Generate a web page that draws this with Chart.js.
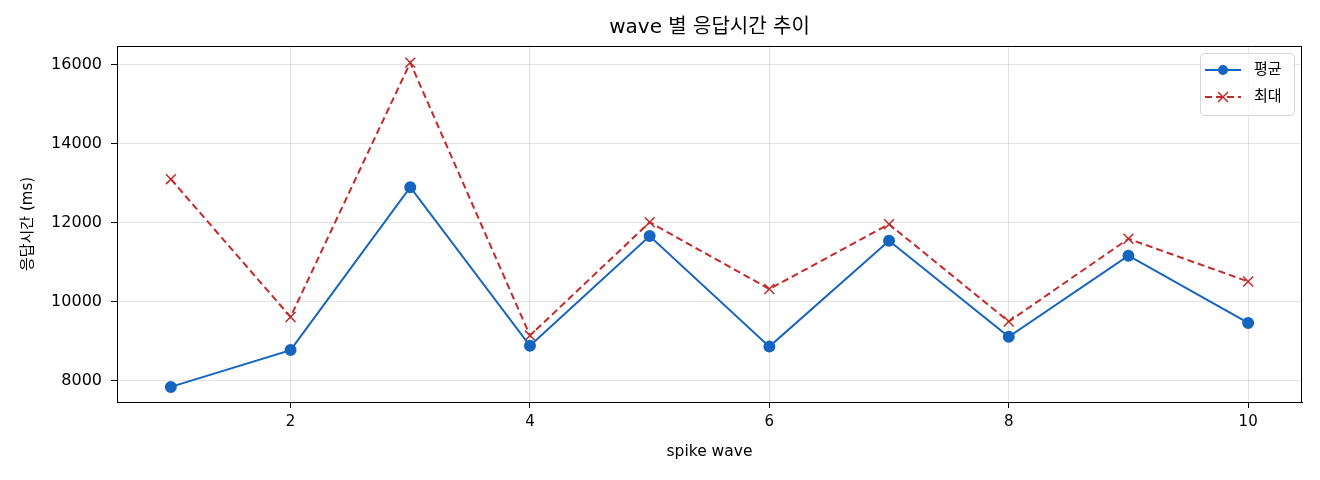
<!DOCTYPE html>
<html>
<head>
<meta charset="utf-8">
<script src="https://cdn.jsdelivr.net/npm/chart.js@4"></script>
<style>
  html, body { margin: 0; padding: 0; background: #fff; }
  #wrap { width: 1320px; height: 480px; }
</style>
</head>
<body>
<div id="wrap"><canvas id="chart" width="1320" height="480"></canvas></div>
<script>
// spike wave 별 응답시간 (ms)
const waves = [1, 2, 3, 4, 5, 6, 7, 8, 9, 10];
const avgMs = [7850, 8782, 12905, 8892, 11671, 8870, 11550, 9120, 11172, 9469];
const maxMs = [13110, 9621, 16060, 9150, 12018, 10329, 11970, 9505, 11600, 10518];
const xTicks = [2, 4, 6, 8, 10];
const yTicks = [8000, 10000, 12000, 14000, 16000];
const chartTitle = 'wave 별 응답시간 추이';

const FONT = '"DejaVu Sans", "Noto Sans CJK KR", sans-serif';
const BLUE = '#1565c0';
const RED = '#c62828';

const toPoints = (vals) => waves.map((w, i) => ({ x: w, y: vals[i] }));

// matplotlib-ish frame around the plot area + title centred over the axes
const framePlugin = {
  id: 'frame',
  afterDatasetsDraw(chart) {
    const { ctx, chartArea: a } = chart;
    ctx.save();
    ctx.strokeStyle = '#000';
    ctx.lineWidth = 1;
    ctx.strokeRect(a.left + 0.5, a.top + 0.5, a.right - a.left - 1, a.bottom - a.top);
    ctx.fillStyle = '#000';
    ctx.font = '20px ' + FONT;
    ctx.textAlign = 'center';
    ctx.textBaseline = 'middle';
    ctx.fillText(chartTitle, (a.left + a.right) / 2, 28);
    ctx.restore();
  }
};

// legend box in upper right corner of the plot area
const legendPlugin = {
  id: 'boxLegend',
  afterDraw(chart) {
    const { ctx, chartArea: a } = chart;
    const w = 94, h = 62;
    const x0 = a.right - w - 8, y0 = a.top + 7;
    ctx.save();
    ctx.fillStyle = 'rgba(255,255,255,0.8)';
    ctx.strokeStyle = '#d6d6d6';
    ctx.lineWidth = 1;
    ctx.beginPath();
    ctx.roundRect(x0 + 0.5, y0 + 0.5, w, h, 4);
    ctx.fill();
    ctx.stroke();

    chart.data.datasets.forEach((ds, i) => {
      const y = y0 + 17 + i * 27;
      ctx.strokeStyle = ds.borderColor;
      ctx.lineWidth = 2;
      ctx.setLineDash(ds.borderDash || []);
      ctx.beginPath();
      ctx.moveTo(x0 + 5, y);
      ctx.lineTo(x0 + 41, y);
      ctx.stroke();
      ctx.setLineDash([]);
      const cx = x0 + 23;
      if (ds.pointStyle === 'cross') {
        ctx.lineWidth = 1.5;
        ctx.beginPath();
        ctx.moveTo(cx - 5, y - 5); ctx.lineTo(cx + 5, y + 5);
        ctx.moveTo(cx - 5, y + 5); ctx.lineTo(cx + 5, y - 5);
        ctx.stroke();
      } else {
        ctx.fillStyle = ds.backgroundColor;
        ctx.beginPath();
        ctx.arc(cx, y, 5, 0, Math.PI * 2);
        ctx.fill();
      }
      ctx.fillStyle = '#000';
      ctx.font = '15px ' + FONT;
      ctx.textBaseline = 'middle';
      ctx.fillText(ds.label, x0 + 54, y);
    });
    ctx.restore();
  }
};

new Chart(document.getElementById('chart'), {
  type: 'line',
  data: {
    datasets: [
      {
        label: '평균',
        data: toPoints(avgMs),
        borderColor: BLUE,
        backgroundColor: BLUE,
        borderWidth: 2,
        pointStyle: 'circle',
        pointRadius: 5,
        pointHoverRadius: 5,
        tension: 0
      },
      {
        label: '최대',
        data: toPoints(maxMs),
        borderColor: RED,
        backgroundColor: RED,
        borderWidth: 2,
        borderDash: [7, 4],
        pointStyle: 'cross',
        pointRotation: 45,
        pointRadius: 7,
        pointBorderWidth: 1.5,
        pointHoverRadius: 7,
        tension: 0
      }
    ]
  },
  options: {
    responsive: false,
    animation: false,
    events: [],
    layout: { padding: { left: 0, right: 18, top: 46, bottom: 0 } },
    plugins: {
      legend: { display: false },
      tooltip: { enabled: false },
      title: { display: false }
    },
    scales: {
      x: {
        type: 'linear',
        min: 0.55,
        max: 10.45,
        afterBuildTicks: (s) => { s.ticks = xTicks.map(v => ({ value: v })); },
        afterFit: (s) => { s.height = 78; },
        grid: { color: 'rgba(0,0,0,0.11)', tickColor: '#000', tickLength: 6, drawOnChartArea: true },
        border: { color: '#000', width: 1 },
        ticks: { color: '#000', padding: 5, maxRotation: 0, font: { family: FONT, size: 15 },
          callback: (v) => String(v) },
        title: {
          display: true,
          text: 'spike wave',
          color: '#000',
          font: { family: FONT, size: 15.5 },
          padding: { top: 0, bottom: 19 }
        }
      },
      y: {
        min: 7468,
        max: 16481,
        afterBuildTicks: (s) => { s.ticks = yTicks.map(v => ({ value: v })); },
        afterFit: (s) => { s.width = 117; },
        grid: { color: 'rgba(0,0,0,0.11)', tickColor: '#000', tickLength: 6 },
        border: { color: '#000', width: 1 },
        ticks: { color: '#000', padding: 9, font: { family: FONT, size: 16 },
          callback: (v) => String(v) },
        title: {
          display: true,
          text: '응답시간 (ms)',
          color: '#000',
          font: { family: FONT, size: 15 },
          padding: { top: 19, bottom: 0 }
        }
      }
    }
  },
  plugins: [framePlugin, legendPlugin]
});
</script>
</body>
</html>
